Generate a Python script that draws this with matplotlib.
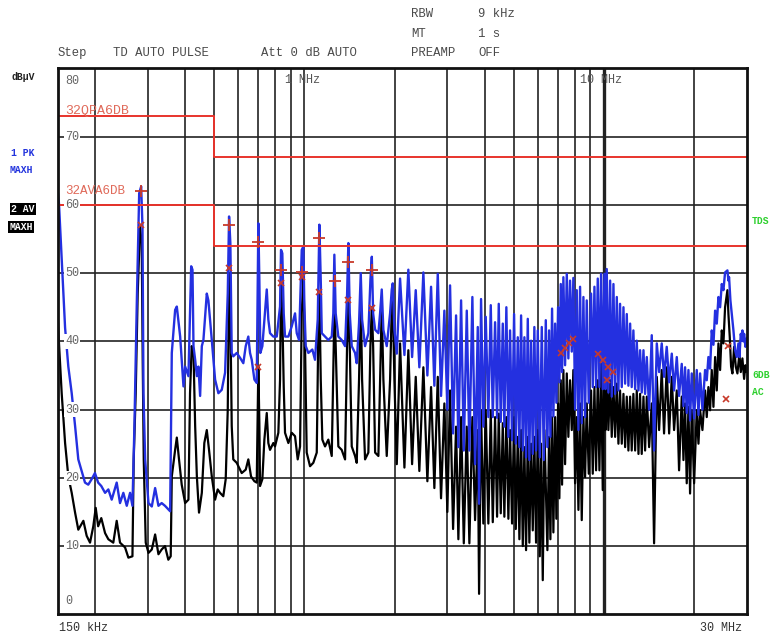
import matplotlib
matplotlib.use("Agg")
import matplotlib.pyplot as plt
import matplotlib.transforms as mtransforms

# ---------------- data (frequency in MHz, level in dBuV) ----------------
pk_freq = [
    0.150, 0.1517, 0.1549, 0.159, 0.163, 0.1673, 0.1717, 0.176, 0.1853, 0.19,
    0.195, 0.2, 0.205, 0.21, 0.2162, 0.2217, 0.2275, 0.2364, 0.2425, 0.2488,
    0.2554, 0.262, 0.2668, 0.2709, 0.276, 0.281, 0.2853, 0.2882, 0.2904, 0.2942,
    0.3018, 0.3096, 0.3176, 0.3258, 0.334, 0.3426, 0.3565, 0.361, 0.3704, 0.3752,
    0.385, 0.3949, 0.4, 0.4103, 0.419, 0.4232, 0.4265, 0.432, 0.4377, 0.443,
    0.4488, 0.4547, 0.4603, 0.4724, 0.4782, 0.4909, 0.5035, 0.5164, 0.53, 0.5437,
    0.555, 0.5606, 0.5662, 0.5722,
    0.579, 0.5945, 0.6097, 0.6255, 0.6372, 0.650, 0.6586, 0.6673, 0.681, 0.6934,
    0.6988, 0.702, 0.7075, 0.7129, 0.724, 0.7353, 0.7489, 0.758, 0.768, 0.7877,
    0.8086, 0.8294, 0.8357, 0.844, 0.8532, 0.8618, 0.8842, 0.9074, 0.9307, 0.943,
    0.9598, 0.9799, 0.992, 1.0, 1.0105, 1.031, 1.063, 1.085, 1.108, 1.122,
    1.134, 1.143, 1.172, 1.202, 1.234, 1.249, 1.259, 1.272, 1.298, 1.332,
    1.367, 1.388, 1.402, 1.417, 1.439, 1.476, 1.495, 1.522, 1.542, 1.558,
    1.594, 1.635, 1.661, 1.679, 1.696, 1.722, 1.766, 1.789, 1.812, 1.835,
    1.883, 1.932, 1.957, 1.972, 1.997,
    2.034, 2.086, 2.157, 2.223, 2.288, 2.353, 2.419, 2.495, 2.573, 2.647,
    2.715, 2.787, 2.858, 2.932, 3.0, 3.063, 3.135, 3.208, 3.265, 3.334,
    3.404, 3.483, 3.553, 3.636, 3.712, 3.790, 3.828, 3.887, 3.956, 4.029,
    4.111, 4.188, 4.253, 4.329, 4.396, 4.453, 4.522, 4.593, 4.649, 4.721,
    4.795, 4.857, 4.933, 5.010, 5.076, 5.154, 5.218, 5.287, 5.356, 5.423,
    5.493, 5.566, 5.634, 5.708, 5.783, 5.854, 5.932, 6.010, 6.103, 6.198,
    6.294, 6.392, 6.471, 6.555, 6.622, 6.708, 6.776, 6.866, 6.934, 7.025,
    7.095, 7.172, 7.244, 7.317, 7.413, 7.511, 7.603, 7.702, 7.804, 7.90,
    8.006, 8.109, 8.214, 8.318, 8.426, 8.535, 8.645, 8.756, 8.893, 9.053,
    9.170, 9.289, 9.408, 9.529, 9.652, 9.776, 9.902, 10.03, 10.11, 10.21,
    10.34, 10.48, 10.61, 10.75, 10.89, 11.03, 11.17, 11.31, 11.46, 11.61,
    11.76, 11.91, 12.06, 12.22, 12.37, 12.53, 12.70, 12.86, 13.03, 13.19,
    13.36, 13.54, 13.71, 13.89, 14.14, 14.43, 14.69, 15.00, 15.27, 15.58,
    15.86, 16.19, 16.49, 16.83, 17.13, 17.49, 17.80, 18.17, 18.41, 18.64,
    18.88, 19.13, 19.37, 19.62, 19.98, 20.39, 20.66, 20.92, 21.30, 21.74,
    22.02, 22.30, 22.59, 22.88, 23.18, 23.48, 23.78, 24.09, 24.40, 24.71,
    25.03, 25.35, 25.81, 26.01, 26.14, 26.41, 26.68, 27.03, 27.38, 27.73,
    28.09, 28.30, 28.60, 28.82, 28.96, 29.19, 29.34, 29.64, 29.94, 30.0,
]
pk_level = [
    62.4, 60.2, 52, 42, 36.3, 32.4, 27.6, 22.7, 19.3, 19,
    19.8, 20.7, 19.3, 18.8, 17.8, 18.3, 16.8, 19.3, 16.3, 17.8,
    15.9, 17.8, 15.9, 27.6, 46, 61.7, 62.7, 56.8, 32.4, 22.7,
    16.3, 15.8, 18.5, 15.9, 16.3, 15.9, 15.1, 38.3, 44.6, 45.1,
    40.7, 33.4, 36.3, 34.9, 51, 50.5, 39.3, 37.3, 34.9, 36.3,
    32, 39.3, 40.2, 47, 46, 40.2, 34.4, 32.4, 32.9, 35.4,
    47, 58.3, 54.4, 38.3,
    37.8, 38.3, 37.6, 36.8, 39.3, 40.7, 38.3, 37.3, 34.4, 33.9,
    49, 57.3, 49, 38.3, 39.3, 43.2, 47.6, 43.2, 41.2, 40.7,
    40.7, 45.1, 53.4, 52.9, 44.1, 40.7, 40.7, 42.2, 44.1, 41.2,
    40.2, 53.4, 53.9, 45.1, 39.3, 38.3, 38.8, 37.3, 43.2, 57.1,
    49, 41.2, 40.7, 40.2, 40.7, 44.1, 52.7, 44.1, 40.7, 40.2,
    39.3, 46.6, 54.4, 44.1, 39.3, 38.3, 36.8, 42.7, 50, 43.2,
    39.3, 41.2, 49, 52.4, 44.1, 41.7, 41.2, 44.1, 47.6, 41.7,
    39.3, 44.1, 47.6, 48.5, 41.7,
    38.2, 49.2, 38, 50.5, 37.7, 47.5, 36.2, 50.1, 35, 48,
    33.5, 49.9, 32, 44.5, 30, 48.2, 26.5, 43.8, 24.5, 46,
    24, 44.5, 24, 46.5, 22, 42.1, 16.2, 46.2, 27.5, 43.6,
    28.9, 45.3, 28.9, 42.8, 28.8, 45.5, 28.2, 42.6, 27.5, 45,
    26, 41.6, 25.5, 44, 25, 40.6, 24.5, 43.8, 24, 40.6,
    23, 43.3, 22.6, 40.1, 23.5, 42.1, 24, 41.6, 23, 42.1,
    22.6, 43.1, 24.5, 41.6, 26, 44.8, 29, 42.6, 31, 45,
    34, 48.4, 35.5, 49.4, 36.5, 49.9, 37.5, 48.9, 38.5, 49.3,
    30, 47.5, 27, 48, 28, 46.5, 28.9, 46, 31, 47,
    33.3, 48, 33.3, 49.2, 33.3, 49.9, 33, 49.9, 33, 50.6,
    32.5, 48.9, 31.9, 48.4, 32.3, 46.5, 32.8, 45.5, 33.3, 45,
    33.8, 44, 33.5, 42.6, 33.3, 41.6, 33, 40.1, 32.8, 38.7,
    32.5, 38.7, 32.3, 37.7, 30, 40.9, 24, 39.7, 35.5, 39.7,
    34.8, 39.2, 34, 38.2, 32.8, 37.7, 32, 36.7, 30.5, 36.2,
    29.5, 35.8, 28.4, 35.3, 28.7, 35.8, 29.2, 35.3, 30, 35.8,
    34.3, 37.7, 36, 41.6, 39.5, 44.5, 42.6, 46.5, 45, 48.4,
    47.5, 50.1, 50.4, 48.9, 49.4, 46, 44, 41.6, 38.7, 37.7,
    39.7, 37.7, 41.1, 40.1, 41.6, 40, 41.1, 39.2, 40.1, 40.5,
]

av_freq = [
    0.150, 0.1517, 0.1549, 0.159, 0.163, 0.1673, 0.1717, 0.176, 0.183, 0.1877,
    0.1926, 0.1975, 0.2012, 0.205, 0.21, 0.2162, 0.2217, 0.2303, 0.2364, 0.2425,
    0.2521, 0.2586, 0.2668, 0.2694, 0.2736, 0.2778, 0.2828, 0.2865, 0.2887, 0.291,
    0.2955, 0.3018, 0.3096, 0.3176, 0.3258, 0.334, 0.3426, 0.3515, 0.358, 0.361,
    0.3704, 0.3752, 0.3816, 0.3896, 0.4, 0.4103, 0.4153, 0.4207, 0.4265, 0.432,
    0.4377, 0.445, 0.4547, 0.4635, 0.4724, 0.4806, 0.4909, 0.5035, 0.5137, 0.5229,
    0.5363, 0.5463, 0.555, 0.5606, 0.5662, 0.5722,
    0.579, 0.5945, 0.6178, 0.6372, 0.650, 0.6637, 0.681, 0.6934, 0.6988, 0.702,
    0.7075, 0.7112, 0.724, 0.7353, 0.7489, 0.758, 0.768, 0.7877, 0.798, 0.8187,
    0.8294, 0.8357, 0.844, 0.8532, 0.8618, 0.8842, 0.9074, 0.9307, 0.95, 0.9672,
    0.9799, 0.992, 1.005, 1.018, 1.0444, 1.071, 1.0997, 1.1132, 1.122, 1.134,
    1.148, 1.172, 1.202, 1.234, 1.2531, 1.259, 1.272, 1.298, 1.332, 1.367,
    1.388, 1.402, 1.417, 1.439, 1.476, 1.495, 1.522, 1.542, 1.558, 1.594,
    1.635, 1.661, 1.679, 1.696, 1.722, 1.766, 1.789, 1.812, 1.835, 1.883,
    1.932, 1.957, 1.972, 1.997,
    2.034, 2.086, 2.157, 2.223, 2.288, 2.353, 2.419, 2.495, 2.573, 2.647,
    2.715, 2.787, 2.858, 2.932, 3.0, 3.063, 3.135, 3.208, 3.265, 3.334,
    3.404, 3.483, 3.553, 3.636, 3.712, 3.790, 3.828, 3.887, 3.956, 4.029,
    4.111, 4.188, 4.253, 4.329, 4.396, 4.453, 4.522, 4.593, 4.649, 4.721,
    4.795, 4.857, 4.933, 5.010, 5.076, 5.154, 5.218, 5.287, 5.356, 5.423,
    5.493, 5.566, 5.634, 5.708, 5.783, 5.854, 5.932, 6.010, 6.103, 6.164,
    6.245, 6.324, 6.471, 6.555, 6.622, 6.708, 6.776, 6.866, 6.934, 7.025,
    7.095, 7.172, 7.244, 7.317, 7.413, 7.511, 7.603, 7.702, 7.804, 7.90,
    8.006, 8.109, 8.214, 8.318, 8.426, 8.535, 8.645, 8.756, 8.893, 9.053,
    9.170, 9.289, 9.408, 9.529, 9.652, 9.776, 9.902, 10.03, 10.11, 10.21,
    10.34, 10.48, 10.61, 10.75, 10.89, 11.03, 11.17, 11.31, 11.46, 11.61,
    11.76, 11.91, 12.06, 12.22, 12.37, 12.53, 12.70, 12.86, 13.03, 13.19,
    13.36, 13.54, 13.71, 13.89, 14.14, 14.43, 14.69, 15.00, 15.27, 15.58,
    15.86, 16.19, 16.49, 16.83, 17.13, 17.49, 17.80, 18.17, 18.41, 18.64,
    18.88, 19.13, 19.37, 19.62, 19.98, 20.39, 20.66, 20.92, 21.30, 21.74,
    22.02, 22.30, 22.59, 22.88, 23.18, 23.48, 23.78, 24.09, 24.40, 24.71,
    25.03, 25.35, 25.81, 26.01, 26.28, 26.55, 26.82, 27.17, 27.52, 27.87,
    28.30, 28.60, 28.96, 29.34, 29.64, 29.94, 30.0,
]
av_level = [
    44.6, 39.8, 32.4, 25.1, 20.2, 17.8, 14.9, 12.4, 13.7, 11.5,
    10.5, 12.9, 15.6, 12.9, 14.1, 11.9, 11.0, 10.5, 13.7, 10.5,
    9.8, 8.3, 8.5, 22.7, 32.4, 47, 56.8, 54.4, 37.3, 22.7,
    10.5, 9.0, 9.5, 11.7, 8.8, 9.5, 10, 8.0, 8.5, 20.2,
    24.1, 25.9, 22.7, 19, 16.3, 16.8, 32.4, 39.3, 38.3, 27.6,
    20.2, 14.9, 17.8, 25.1, 27, 24.1, 20.2, 16.8, 18.3, 17.8,
    17.3, 19.8, 30, 50, 44, 27.6,
    22.7, 22.2, 20.7, 21.2, 22.7, 20.2, 19.5, 19.3, 30, 36.3,
    28, 18.8, 19.8, 25.6, 29.5, 25.1, 24.1, 25.1, 24.6, 26.6,
    34.4, 48.5, 44.1, 33.4, 26.6, 25.1, 26.6, 26.1, 22.7, 24.6,
    44.1, 49.5, 39.3, 23.7, 21.7, 22.2, 23.7, 41.7, 47.3, 34.4,
    25.6, 24.6, 25.6, 23.2, 39.3, 46, 39.3, 24.6, 24.1, 22.7,
    39.3, 46, 39.3, 24.6, 23.2, 22.2, 34.4, 46.6, 34.4, 22.7,
    23.7, 39.3, 45, 39.3, 23.7, 23.2, 34.4, 45.1, 34.4, 23.2,
    34.4, 45.1, 46.1, 34.4,
    22, 39.7, 21.5, 38.7, 22, 34.8, 21, 36.2, 19.5, 33.3,
    18.5, 34.8, 17, 30.9, 15, 32.8, 12.5, 27.5, 11, 28.9,
    10.4, 27.5, 10.4, 28.9, 13.8, 27, 3, 29.9, 13.3, 29.9,
    13.3, 29.9, 13.5, 28.9, 14.3, 29.4, 14.8, 28, 14.3, 28.9,
    14, 27, 13.3, 28.9, 12.5, 26, 11, 27, 10, 24.5,
    9.4, 26, 10.5, 25, 12.3, 26, 10.5, 27, 8.5, 25,
    5, 27, 9.4, 26, 11, 28.9, 12, 28.9, 14, 30.9,
    17, 34.3, 19, 35.8, 22, 35.3, 26, 34.3, 27, 35.8,
    19.2, 28.9, 15.3, 30.9, 13.8, 28.9, 20.1, 30.9, 20.6, 32.8,
    20.6, 33.3, 21.1, 34.3, 21.1, 36.7, 18.2, 39.7, 27, 35.3,
    27, 34.3, 26, 33.3, 26, 33.8, 25, 32.8, 25, 32.3,
    24.5, 31.9, 24, 31.9, 24, 32.3, 24, 32.8, 23.5, 32.3,
    23.5, 31.9, 24, 31.9, 24.5, 30.9, 10.4, 34.8, 27, 35.8,
    26.5, 36.2, 26.5, 34.8, 27, 32.8, 21.1, 31.9, 22.6, 30.9,
    19.2, 30.4, 17.7, 29.9, 19.2, 29.9, 25, 29.9, 27, 32.8,
    28.9, 33.3, 29.9, 35.8, 30.4, 37.7, 32.8, 39.7, 35.8, 41.6,
    39.7, 45, 47.5, 44, 40.6, 36.3, 35.3, 39.2, 36.3, 35.3,
    38.2, 35.5, 37.5, 34.5, 36.5, 35.5, 36,
]

qp_limit_freq = [0.15, 0.5, 0.5, 30.0]
qp_limit_level = [73, 73, 67, 67]
av_limit_freq = [0.15, 0.5, 0.5, 30.0]
av_limit_level = [60, 60, 54, 54]

qp_mark_freq = [0.2853, 0.5606, 0.702, 0.835, 0.98, 1.122, 1.266, 1.402, 1.679]
qp_mark_level = [62, 57, 54.6, 50.5, 50.2, 55.1, 48.9, 51.7, 50.4]
av_mark_freq = [0.2853, 0.5606, 0.702, 0.835, 0.98, 1.122, 1.402, 1.679,
                7.19, 7.41, 7.64, 7.88, 9.55, 9.93, 10.32, 10.72, 10.24,
                26.0, 25.55]
av_mark_level = [57, 50.7, 36.3, 48.6, 49.5, 47.3, 46.1, 44.9,
                 38.3, 39.0, 39.7, 40.4, 38.2, 37.2, 36.3, 35.5, 34.3,
                 39.3, 31.6]

grid_freq = [0.2, 0.3, 0.4, 0.5, 0.6, 0.7, 0.8, 0.9, 1, 2, 3, 4, 5, 6, 7, 8, 9, 10, 20]
grid_level = [10, 20, 30, 40, 50, 60, 70]
level_labels = ["80", "70", "60", "50", "40", "30", "20", "10", "0"]

# ---------------- figure ----------------
W, H = 773, 637
fig = plt.figure(figsize=(W / 100, H / 100), dpi=100)
fig.patch.set_facecolor("white")

L, R, T, B = 57.5, 747.0, 68.4, 614.3
ax = fig.add_axes([L / W, 1 - B / H, (R - L) / W, (B - T) / H])
ax.set_xscale("log")
ax.set_xlim(0.15, 30)
ax.set_ylim(0, 80)
ax.set_xticks([])
ax.set_yticks([])
ax.minorticks_off()
for s in ax.spines.values():
    s.set_linewidth(2.0)
    s.set_color("#111111")
    s.set_zorder(10)

gcol = "#222222"
for f in grid_freq:
    ax.axvline(f, color=gcol, lw=2.4 if f == 10 else 1.2, zorder=1)
for lv in grid_level:
    ax.axhline(lv, color=gcol, lw=1.2, zorder=1)

ax.plot(av_freq, av_level, color="#000000", lw=1.6, zorder=2)
ax.plot(pk_freq, pk_level, color="#2430e0", lw=1.7, zorder=3)

red = "#e8342c"
ax.plot(qp_limit_freq, qp_limit_level, color=red, lw=1.4, zorder=4)
ax.plot(av_limit_freq, av_limit_level, color=red, lw=1.4, zorder=4)

mcol = "#c83a2a"
ax.plot(qp_mark_freq, qp_mark_level, ls="none", marker="+", ms=8, mew=1.3,
        color=mcol, zorder=5)
ax.plot(av_mark_freq, av_mark_level, ls="none", marker="x", ms=5, mew=1.2,
        color=mcol, zorder=5)

mono = ["Liberation Mono", "DejaVu Sans Mono"]
tcol = "#4a4a4a"

# level labels inside the plot
trans = mtransforms.blended_transform_factory(ax.transAxes, ax.transData)
lab_y = [78.2, 70, 60, 50, 40, 30, 20, 10, 2.0]
for txt, yv in zip(level_labels, lab_y):
    ax.text(0.011, yv, txt, transform=trans, ha="left", va="center",
            fontsize=8.5, family=mono, color="#666666", zorder=6,
            bbox=dict(boxstyle="square,pad=0.1", fc="white", ec="none")
            if txt not in ("80", "0") else None)

# limit line names
ax.text(0.011, 73.8, "32QPA6DB", transform=trans, ha="left", va="center",
        fontsize=9.5, family=mono, color="#e06a5a", zorder=6)
ax.text(0.011, 62.0, "32AVA6DB", transform=trans, ha="left", va="center",
        fontsize=9, family=mono, color="#e06a5a", zorder=7)


def ftext(x, y, s, **kw):
    fig.text(x / W, 1 - y / H, s, **kw)


# frequency labels
ftext(285, 80, "1 MHz", fontsize=8.5, family=mono, color="#555555", va="center")
ftext(580, 80, "10 MHz", fontsize=8.5, family=mono, color="#555555", va="center")
ftext(59, 628, "150 kHz", fontsize=8.5, family=mono, color="#333333", va="center")
ftext(742, 628, "30 MHz", fontsize=8.5, family=mono, color="#333333", va="center", ha="right")

# header
hk = dict(fontsize=8.8, family=mono, color=tcol, va="center")
ftext(58, 53, "Step", **hk)
ftext(113, 53, "TD AUTO PULSE", **hk)
ftext(261, 53, "Att 0 dB AUTO", **hk)
ftext(411, 53, "PREAMP", **hk)
ftext(478, 53, "OFF", **hk)
ftext(411, 14, "RBW", **hk)
ftext(478, 14, "9 kHz", **hk)
ftext(411, 34, "MT", **hk)
ftext(478, 34, "1 s", **hk)

# left trace labels
lk = dict(fontsize=7, family=mono, weight="bold", va="center")
ftext(11, 77, "dB\u00b5V", color="#222222", **lk)
ftext(11, 153, "1 PK", color="#2233dd", **lk)
ftext(9, 170, "MAXH", color="#2233dd", **lk)
ftext(11, 209, "2 AV", color="white",
      bbox=dict(boxstyle="square,pad=0.15", fc="black", ec="none"), **lk)
ftext(9, 227, "MAXH", color="white",
      bbox=dict(boxstyle="square,pad=0.15", fc="black", ec="none"), **lk)

# right side labels
gk = dict(fontsize=7, family=mono, weight="bold", va="center", color="#2ed02e")
ftext(752, 221, "TDS", **gk)
ftext(752, 375, "6DB", **gk)
ftext(752, 392, "AC", **gk)

fig.savefig("out.png", dpi=100, facecolor="white")
